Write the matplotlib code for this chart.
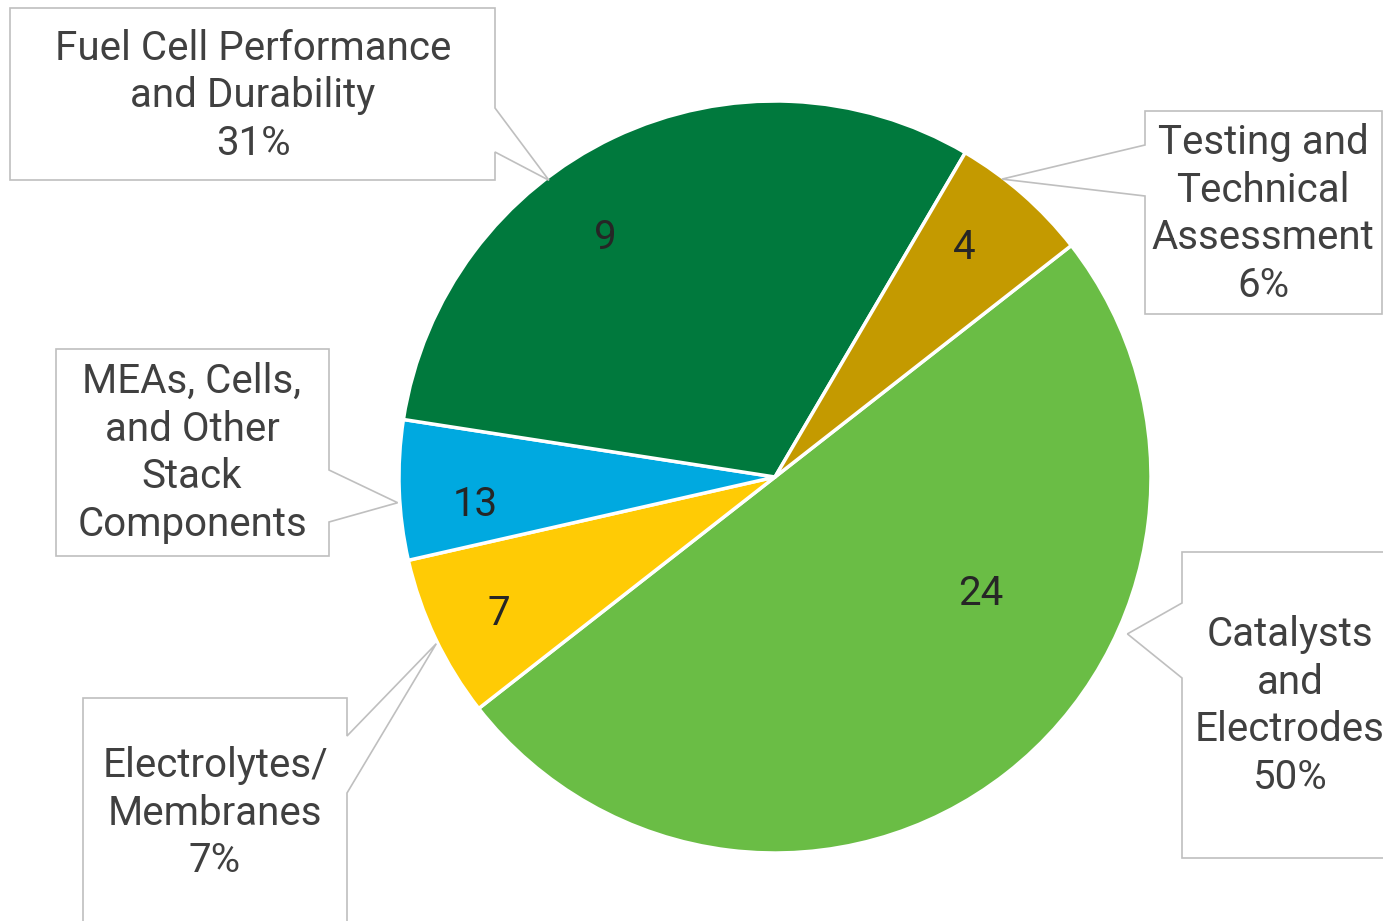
import numpy as np
import matplotlib.pyplot as plt
from matplotlib.patches import Polygon

# Slice data, clockwise from the Catalysts slice
categories = [
    "Catalysts and Electrodes",
    "Electrolytes/ Membranes",
    "MEAs, Cells, and Other Stack Components",
    "Fuel Cell Performance and Durability",
    "Testing and Technical Assessment",
]
shares = [50, 7, 6, 31, 6]          # percent of total
counts = [24, 7, 13, 9, 4]          # numbers printed inside slices
show_pct = [True, True, False, True, True]
label_lines = [
    ["Catalysts", "and", "Electrodes"],
    ["Electrolytes/", "Membranes"],
    ["MEAs, Cells,", "and Other", "Stack", "Components"],
    ["Fuel Cell Performance", "and Durability"],
    ["Testing and", "Technical", "Assessment"],
]
colors = ["#6ABD45", "#FFCB05", "#00A9E0", "#00793D", "#C49A00"]

W, H = 1383, 921
TEXT = "#404040"
BORDER = "#BFBFBF"
FONT = "Roboto"
FS = 29

fig = plt.figure(figsize=(W / 100, H / 100), dpi=100)
ax = fig.add_axes([0, 0, 1, 1])

cx, cy, R = 775, H - 477, 376
wedges, _ = ax.pie(
    shares,
    colors=colors,
    startangle=38,
    counterclock=False,
    center=(cx, cy),
    radius=R,
    wedgeprops=dict(edgecolor="white", linewidth=2.5),
)
ax.set_xlim(0, W)
ax.set_ylim(0, H)
ax.set_aspect("equal")
ax.axis("off")


def polar(theta, frac):
    t = np.deg2rad(theta)
    return cx + frac * R * np.cos(t), cy + frac * R * np.sin(t)


# in-slice numbers: (angle offset from slice middle, radius fraction)
num_pos = [(22.5, 0.63), (0.9, 0.82), (3.3, 0.80), (10.0, 0.78), (1.7, 0.79)]
# callouts: box (left, top, right, bottom) in px, pointer side, pointer span, tip offset/radius, text centre
callouts = [
    ((1182, 552, 1400, 858), "left", (603, 678), (28.0, 1.026), (1290, 706)),
    ((83, 698, 347, 940), "right", (736, 793), (0.8, 1.004), (215, 813)),
    ((56, 349, 329, 556), "right", (470, 522), (1.9, 1.006), (192, 453)),
    ((10, 8, 495, 180), "right", (108, 152), (11.9, 0.992), (253, 96)),
    ((1145, 111, 1382, 314), "left", (145, 196), (3.9, 0.996), (1263, 214)),
]

for i, w in enumerate(wedges):
    mid = 0.5 * (w.theta1 + w.theta2)

    off, frac = num_pos[i]
    x, y = polar(mid + off, frac)
    ax.text(x, y, str(counts[i]), ha="center", va="center",
            fontsize=FS, color="#262626", family=FONT)

    (l, t, r, b), side, (p0, p1), (toff, tfrac), (tx, ty) = callouts[i]
    tipx, tipy = polar(mid + toff, tfrac)
    if side == "right":
        pts = [(l, t), (r, t), (r, p0), (tipx, H - tipy), (r, p1), (r, b), (l, b)]
    else:
        pts = [(l, t), (r, t), (r, b), (l, b), (l, p1), (tipx, H - tipy), (l, p0)]
    pts = [(px, H - py) for px, py in pts]
    ax.add_patch(Polygon(pts, closed=True, facecolor="white",
                         edgecolor=BORDER, linewidth=1.2, zorder=3))

    lines = list(label_lines[i])
    if show_pct[i]:
        lines.append(f"{shares[i]}%")
    ax.text(tx, H - ty, "\n".join(lines), ha="center", va="center",
            fontsize=FS, color=TEXT, family=FONT, linespacing=1.29, zorder=4)

fig.savefig("out.png", dpi=100)
